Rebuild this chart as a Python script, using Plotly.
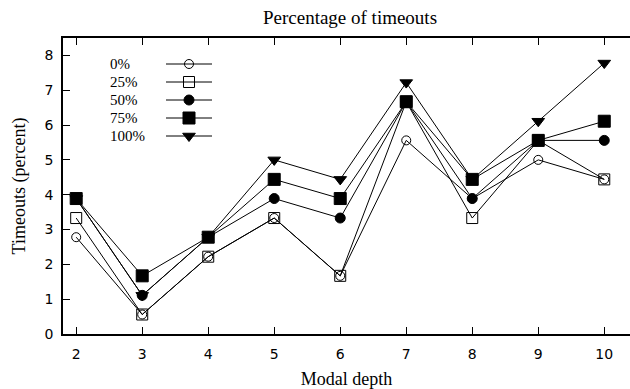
import plotly.graph_objects as go

depth = [2, 3, 4, 5, 6, 7, 8, 9, 10]
series_names = ["0%", "25%", "50%", "75%", "100%"]
t0 = [2.78, 0.56, 2.22, 3.33, 1.67, 5.56, 3.89, 5.00, 4.44]
t25 = [3.33, 0.56, 2.22, 3.33, 1.67, 6.67, 3.33, 5.56, 4.44]
t50 = [3.89, 1.11, 2.78, 3.89, 3.33, 6.67, 3.89, 5.56, 5.56]
t75 = [3.89, 1.67, 2.78, 4.44, 3.89, 6.67, 4.44, 5.56, 6.11]
t100 = [3.89, 1.11, 2.78, 5.00, 4.44, 7.22, 4.44, 6.11, 7.78]
y_ticks = [0, 1, 2, 3, 4, 5, 6, 7, 8]

series = [t0, t25, t50, t75, t100]
symbols = ["circle-open", "square-open", "circle", "square", "triangle-down"]
sizes = [9, 11, 10, 12, 11]

SERIF = "Liberation Serif"
SANS = "DejaVu Sans"

fig = go.Figure()
for name, vals, sym, sz in zip(series_names, series, symbols, sizes):
    fig.add_trace(go.Scatter(
        x=depth, y=vals, mode="lines+markers", name=name,
        line=dict(color="black", width=1),
        marker=dict(symbol=sym, size=sz, color="black",
                    line=dict(color="black", width=1)),
        showlegend=False, cliponaxis=False,
    ))

# custom legend (gnuplot style: label, then sample line with marker)
leg_y = [64, 82, 100, 118, 136]
for name, sym, sz, ly in zip(series_names, symbols, sizes, leg_y):
    fig.add_trace(go.Scatter(
        x=[166, 189, 212], y=[ly, ly, ly], xaxis="x2", yaxis="y2",
        mode="lines", line=dict(color="black", width=1),
        showlegend=False, hoverinfo="skip",
    ))
    fig.add_trace(go.Scatter(
        x=[189], y=[ly], xaxis="x2", yaxis="y2", mode="markers",
        marker=dict(symbol=sym, size=sz, color="black",
                    line=dict(color="black", width=1)),
        showlegend=False, hoverinfo="skip",
    ))
    fig.add_annotation(x=108, y=ly, xref="x2", yref="y2", text=name,
                       showarrow=False, xanchor="left", yanchor="middle",
                       font=dict(family=SERIF, size=15, color="black"))

fig.update_layout(
    width=630, height=389,
    margin=dict(l=63, r=0, t=38, b=55),
    paper_bgcolor="white", plot_bgcolor="white",
    title=dict(text="Percentage of timeouts", x=350 / 630, xanchor="center",
               y=1 - 17 / 389, yanchor="middle",
               font=dict(family=SERIF, size=19, color="black")),
    xaxis=dict(
        range=[1.8, 10.39], tickvals=depth, ticktext=[str(d) for d in depth],
        ticks="inside", ticklen=7, tickwidth=1, tickcolor="black",
        showline=True, linecolor="black", linewidth=1.5, mirror="ticks",
        showgrid=False, zeroline=False, ticklabelstandoff=6,
        tickfont=dict(family=SANS, size=14, color="black"),
        title=dict(text="Modal depth", standoff=16,
                   font=dict(family=SERIF, size=18, color="black")),
    ),
    yaxis=dict(
        range=[0, 8.5], tickvals=y_ticks, ticktext=[str(v) for v in y_ticks],
        ticks="inside", ticklen=7, tickwidth=1, tickcolor="black",
        showline=True, linecolor="black", linewidth=1.5, mirror=False,
        showgrid=False, zeroline=False, ticklabelstandoff=5,
        tickfont=dict(family=SANS, size=14, color="black"),
        title=dict(text="Timeouts (percent)", standoff=14,
                   font=dict(family=SERIF, size=18, color="black")),
    ),
    xaxis2=dict(domain=[0, 1], range=[63, 630], overlaying="x", visible=False,
                anchor="y2"),
    yaxis2=dict(domain=[0, 1], range=[334, 38], overlaying="y", visible=False,
                anchor="x2"),
    showlegend=False,
)

fig.write_html("out.html")
